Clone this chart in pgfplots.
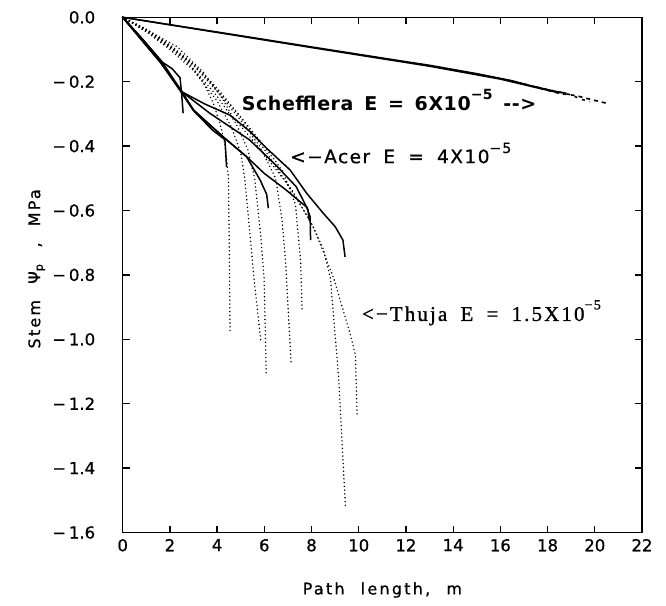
\documentclass[border=0pt]{standalone}
\usepackage{pgfplots}
\pgfplotsset{compat=1.18}
\usepackage{fontspec}
\setmainfont{DejaVu Sans}
\newfontfamily\tickfont[FakeBold=0.8]{DejaVu Sans}
\newfontfamily\lblfont[LetterSpace=14,WordSpace=2.2,FakeBold=0.8]{DejaVu Sans}
\newfontfamily\schfont[LetterSpace=3,WordSpace=1.5]{DejaVu Sans Bold}
\newfontfamily\acfont[LetterSpace=8,WordSpace=1.8,FakeBold=0.8]{DejaVu Sans}
\newfontfamily\thfont[LetterSpace=10,WordSpace=1.8,FakeBold=1]{Liberation Serif}
\newcommand\sups[1]{\raisebox{0.55em}{\fontsize{14}{14}\selectfont #1}}
\begin{document}
\begin{tikzpicture}
\useasboundingbox (-122.7pt,-72.5pt) rectangle (543.3pt,532.5pt);
\begin{axis}[
  scale only axis, width=519.3pt, height=515.2pt,
  xmin=0, xmax=22, ymin=-1.6, ymax=0,
  xtick={0,2,...,22},
  ytick={0,-0.2,-0.4,-0.6,-0.8,-1.0,-1.2,-1.4,-1.6},
  yticklabels={0.0,−\,0.2,−\,0.4,−\,0.6,−\,0.8,−\,1.0,−\,1.2,−\,1.4,−\,1.6},
  /pgf/number format/assume math mode=true,
  tick label style={font=\tickfont\fontsize{16.5}{18}\selectfont},
  yticklabel style={xshift=-24pt},
  xticklabel style={yshift=-3pt},
  tick align=inside,
  major tick length=7pt,
  minor tick num=0,
  axis line style={line width=1.5pt},
  every tick/.style={line width=1.3pt, black},
  xlabel={Path length, m},
  ylabel={Stem Ψ\textsubscript{p} , MPa},
  every axis x label/.style={at={(rel axis cs:0.5,0)}, anchor=center, yshift=-57.5pt, font=\lblfont\fontsize{16}{18}\selectfont},
  every axis y label/.style={at={(rel axis cs:0,0.5)}, xshift=-86pt, yshift=6pt, rotate=90, anchor=center, font=\lblfont\fontsize{16}{18}\selectfont},
  clip=false,
]
% ---------------- Schefflera ----------------
\addplot[black, line width=1.5pt] coordinates {(0,0) (4.55,-0.052) (8,-0.092) (11.75,-0.135) (13,-0.149) (15,-0.175) (16.5,-0.197) (17.27,-0.212) (18.2,-0.228) (18.8,-0.236)};
\addplot[black, line width=1.5pt] coordinates {(0,0) (8,-0.094) (13,-0.152) (16,-0.192) (17.5,-0.218) (18.5,-0.235)};
\addplot[black, line width=1.6pt, dash pattern=on 4pt off 4pt] coordinates {(17.0,-0.207) (18.53,-0.237) (19.2,-0.243) (19.66,-0.252) (20.5,-0.267)};
\addplot[black, line width=1.6pt, dash pattern=on 3pt off 5pt] coordinates {(17.5,-0.216) (18.3,-0.229) (19.0,-0.241) (19.4,-0.254) (19.8,-0.262)};
% ---------------- Acer ----------------
\addplot[black, line width=1.5pt] coordinates {(0,0) (0.8,-0.065) (1.67,-0.139) (2.1,-0.16) (2.43,-0.188) (2.5,-0.24) (2.56,-0.298)};
\addplot[black, line width=1.5pt] coordinates {(0,0) (0.8,-0.065) (1.67,-0.139) (2.1,-0.19) (2.52,-0.232) (3.5,-0.27) (4.55,-0.304) (5.4,-0.355) (6.1,-0.407) (7.09,-0.474) (7.8,-0.547) (8.49,-0.608) (9.0,-0.65) (9.33,-0.692) (9.42,-0.744)};
\addplot[black, line width=1.5pt] coordinates {(0,0) (0.8,-0.07) (1.6,-0.14) (2.0,-0.18) (2.5,-0.231) (3.0,-0.288) (3.7,-0.335) (4.33,-0.376) (5.25,-0.433) (6.0,-0.485) (6.9,-0.535) (7.8,-0.59) (7.94,-0.62) (7.96,-0.692)};
\addplot[black, line width=1.5pt] coordinates {(0,0) (0.8,-0.07) (1.6,-0.14) (2.0,-0.18) (2.5,-0.231) (3.0,-0.288) (4.33,-0.376) (5.25,-0.433) (5.82,-0.505) (6.1,-0.55) (6.17,-0.593)};
\addplot[black, line width=1.5pt] coordinates {(0,0) (0.8,-0.07) (1.6,-0.14) (2.5,-0.235) (3.0,-0.29) (3.8,-0.35) (4.33,-0.38) (4.4,-0.465)};
\addplot[black, line width=1.5pt] coordinates {(0,0) (0.8,-0.065) (1.67,-0.139) (2.52,-0.232) (3.69,-0.298) (5.38,-0.381) (6.5,-0.46) (7.35,-0.526) (7.85,-0.598) (7.9,-0.63)};
% ---------------- Thuja ----------------
\pgfplotsset{thuja/.style={black, line width=1.6pt, line cap=round, dash pattern=on 0pt off 3.8pt}}
\addplot[thuja] coordinates {(0,0) (1,-0.045) (2,-0.095) (2.71,-0.133) (3.4,-0.2) (3.84,-0.267) (4.12,-0.33) (4.35,-0.4) (4.48,-0.5) (4.52,-0.75) (4.55,-0.984)};
\addplot[thuja] coordinates {(0,0) (1,-0.045) (2,-0.1) (3,-0.165) (4,-0.26) (4.6,-0.34) (5.0,-0.42) (5.17,-0.5) (5.4,-0.68) (5.56,-0.81) (5.85,-1.005)};
\addplot[thuja] coordinates {(0,0) (1,-0.04) (2,-0.092) (3,-0.16) (4,-0.245) (4.8,-0.33) (5.3,-0.41) (5.59,-0.5) (5.85,-0.68) (5.99,-0.81) (6.08,-1.109)};
\addplot[thuja] coordinates {(0,0) (1,-0.04) (2,-0.09) (3,-0.15) (4,-0.23) (5,-0.32) (5.8,-0.4) (6.48,-0.5) (6.75,-0.63) (6.9,-0.759) (7.14,-1.08)};
\addplot[thuja] coordinates {(0,0) (1,-0.038) (2,-0.088) (3,-0.148) (4,-0.225) (5,-0.31) (6,-0.4) (6.8,-0.48) (7.32,-0.582) (7.54,-0.759) (7.6,-0.912)};
\addplot[thuja] coordinates {(0,0) (1,-0.037) (2,-0.085) (3,-0.145) (4,-0.22) (5,-0.31) (6,-0.41) (7,-0.52) (7.96,-0.634) (8.5,-0.72) (8.8,-0.81) (9.15,-1.12) (9.44,-1.525)};
\addplot[thuja] coordinates {(0,0) (0.9,-0.034) (2.3,-0.091) (3.4,-0.169) (4.2,-0.25) (4.65,-0.308) (5.8,-0.407) (7.2,-0.54) (8.1,-0.655) (8.94,-0.81) (9.65,-0.987) (9.86,-1.049) (9.93,-1.235)};
% ---------------- Labels ----------------
\node[anchor=base west, inner sep=0pt, font=\schfont\fontsize{19}{21}\selectfont] at (axis cs:5.04,-0.288) {Schefflera E = 6X10\sups{−5} -{}-{}>};
\node[anchor=base west, inner sep=0pt, font=\acfont\fontsize{18.5}{20}\selectfont] at (axis cs:7.09,-0.453) {<−Acer E = 4X10\sups{−5}};
\node[anchor=base west, inner sep=0pt, font=\thfont\fontsize{21}{23}\selectfont] at (axis cs:10.13,-0.943) {<−Thuja E = 1.5X10\sups{−5}};
\end{axis}
\end{tikzpicture}
\end{document}
